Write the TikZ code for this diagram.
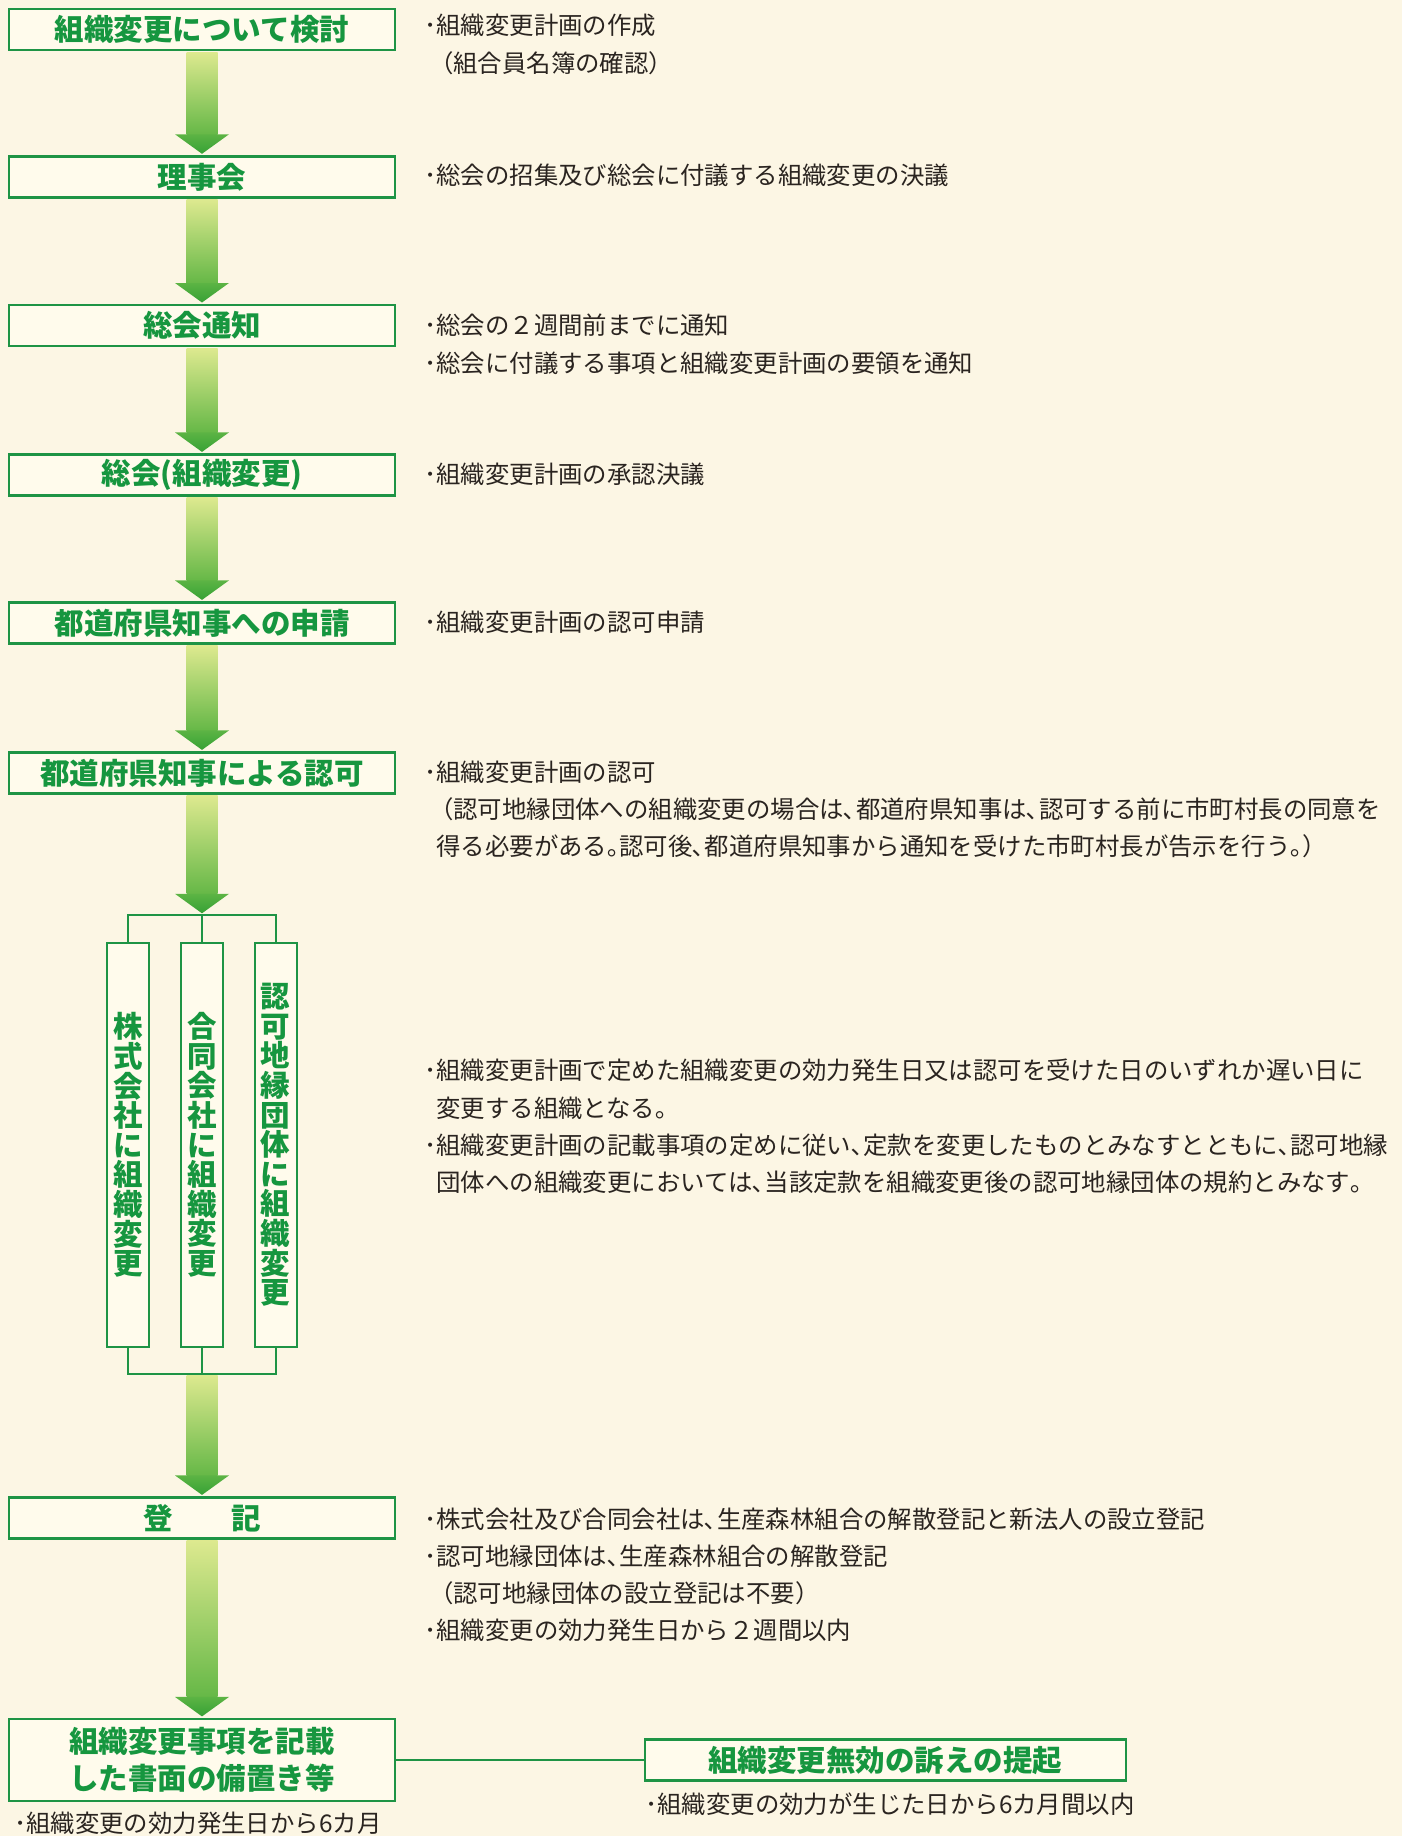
\documentclass[tikz,border=0pt]{standalone}
\usepackage{fontspec}
\newfontfamily\jp{Noto Sans CJK JP}
\usetikzlibrary{calc}
\definecolor{bgcol}{HTML}{FCF6E4}
\definecolor{boxfill}{HTML}{FFFBEC}
\definecolor{boxgreen}{HTML}{1E9445}
\definecolor{titlegreen}{HTML}{16963F}
\definecolor{bodytext}{HTML}{2A2420}
\definecolor{shafttop}{HTML}{DDE98F}
\definecolor{shaftbot}{HTML}{66B847}
\definecolor{headtop}{HTML}{5CB444}
\definecolor{headbot}{HTML}{36A135}
\newcommand\ttlfont{\jp\bfseries\fontsize{29.5}{37.5}\selectfont}
\newcommand\vrtfont{\jp\bfseries\fontsize{29.5}{29.6}\selectfont}
\newcommand\bdyfont{\jp\fontsize{24.4}{37.2}\selectfont}
\newcommand\flowarrow[2]{%
  \shade[top color=shafttop, bottom color=shaftbot]
    let \p1=(#1), \p2=(#2) in (\x1-15.5pt,\y1-1.1pt) rectangle (\x1+15.5pt,\y2+21pt);
  \shade[top color=headtop, bottom color=headbot]
    let \p1=(#1), \p2=(#2) in (\x1-27pt,\y2+21pt) -- (\x1+27pt,\y2+21pt) -- (\x1,\y2+1.5pt) -- cycle;
}
\begin{document}
\begin{tikzpicture}[x=1pt,y=-1pt,
  flowbox/.style={draw=boxgreen, line width=2.2pt, fill=boxfill, minimum width=385.3pt,
    minimum height=41pt, inner sep=0pt, text=titlegreen, font=\ttlfont, align=center},
  vbox/.style={flowbox, minimum width=42pt, minimum height=404pt, font=\vrtfont},
  conn/.style={draw=boxgreen, line width=2pt},
  note/.style={anchor=base west, inner sep=0pt, align=left, text=bodytext, font=\bdyfont},
]
\useasboundingbox (0,0) rectangle (1402,1836);
\fill[bgcol] (0,0) rectangle (1402,1836);

% main flow boxes
\node[flowbox] (b1) at (202,29.5) {組織変更について検討};
\node[flowbox] (b2) at (202,176.9) {理事会};
\node[flowbox] (b3) at (202,325.6) {総会通知};
\node[flowbox] (b4) at (202,475) {総会(組織変更)};
\node[flowbox] (b5) at (202,623) {都道府県知事への申請};
\node[flowbox] (b6) at (202,773) {都道府県知事による認可};
\node[flowbox] (b7) at (202,1518) {登　　記};
\node[flowbox, minimum height=82pt] (b8) at (202,1760) {組織変更事項を記載\\した書面の備置き等};
\node[flowbox, minimum width=480.6pt] (b9) at (885.3,1760) {組織変更無効の訴えの提起};

% vertical boxes
\node[vbox] (v1) at (128.3,1145) {株\\式\\会\\社\\に\\組\\織\\変\\更};
\node[vbox] (v2) at (202,1145) {合\\同\\会\\社\\に\\組\\織\\変\\更};
\node[vbox] (v3) at (275.7,1145) {認\\可\\地\\縁\\団\\体\\に\\組\\織\\変\\更};

\coordinate (brtop) at (202,914.8);
\coordinate (brbot) at (202,1374);

% brackets
\draw[conn] (v1.north) |- (brtop) -| (v3.north);
\draw[conn] (brtop) -- (v2.north);
\draw[conn] (v1.south) |- (brbot) -| (v3.south);
\draw[conn] (brbot) -- (v2.south);
\draw[conn] (b8.east) -- (b9.west);

% arrows
\flowarrow{b1.south}{b2.north}
\flowarrow{b2.south}{b3.north}
\flowarrow{b3.south}{b4.north}
\flowarrow{b4.south}{b5.north}
\flowarrow{b5.south}{b6.north}
\flowarrow{b6.south}{brtop}
\flowarrow{brbot}{b7.north}
\flowarrow{b7.south}{b8.north}

% notes (anchor = baseline of the last line)
\node[note] (nA) at (424,72.2) {･組織変更計画の作成\\\hspace*{0.2em}（組合員名簿の確認）};
\node[note] (nB) at (424,184.9) {･総会の招集及び総会に付議する組織変更の決議};
\node[note] (nC) at (424,372) {･総会の２週間前までに通知\\･総会に付議する事項と組織変更計画の要領を通知};
\node[note] (nD) at (424,483.6) {･組織変更計画の承認決議};
\node[note] (nE) at (424,631.2) {･組織変更計画の認可申請};
\node[note] (nF) at (424,855.6) {･組織変更計画の認可\\\hspace*{0.2em}（認可地縁団体への組織変更の場合は､都道府県知事は､認可する前に市町村長の同意を\\\hspace*{0.5em}得る必要がある｡認可後､都道府県知事から通知を受けた市町村長が告示を行う｡）};
\node[note] (nG) at (424,1191.4) {･組織変更計画で定めた組織変更の効力発生日又は認可を受けた日のいずれか遅い日に\\\hspace*{0.5em}変更する組織となる｡\\･組織変更計画の記載事項の定めに従い､定款を変更したものとみなすとともに､認可地縁\\\hspace*{0.5em}団体への組織変更においては､当該定款を組織変更後の認可地縁団体の規約とみなす｡};
\node[note] (nH) at (424,1639.8) {･株式会社及び合同会社は､生産森林組合の解散登記と新法人の設立登記\\･認可地縁団体は､生産森林組合の解散登記\\\hspace*{0.2em}（認可地縁団体の設立登記は不要）\\･組織変更の効力発生日から２週間以内};
\node[note] (nI) at (14,1832.6) {･組織変更の効力発生日から6カ月};
\node[note] (nJ) at (645,1813) {･組織変更の効力が生じた日から6カ月間以内};
\end{tikzpicture}
\end{document}
